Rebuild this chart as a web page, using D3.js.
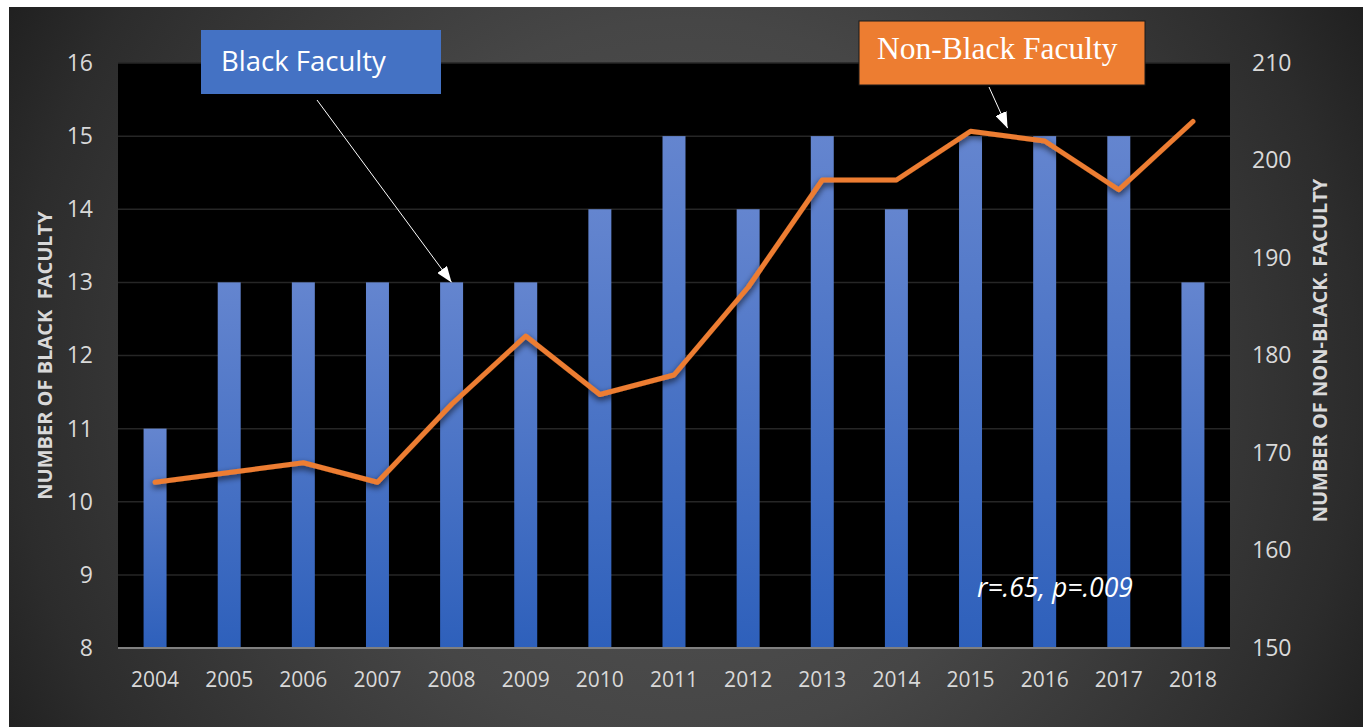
<!DOCTYPE html>
<html>
<head>
  <meta charset="utf-8">
  <style>
body {
  margin: 0;
  background: #fff;
}
svg {
  display: block;
  font-family: "Open Sans", sans-serif;
}
  </style>
</head>
<body>
  <svg id="chart" width="1368" height="727"></svg>
  <script src="https://cdn.jsdelivr.net/npm/d3@7"></script>
  <script>
// Data
var years = ["2004", "2005", "2006", "2007", "2008", "2009", "2010", "2011",
             "2012", "2013", "2014", "2015", "2016", "2017", "2018"];
var blackFaculty = [11, 13, 13, 13, 13, 13, 14, 15, 14, 15, 14, 15, 15, 15, 13];
var nonBlackFaculty = [167, 168, 169, 167, 175, 182, 176, 178, 187, 198, 198, 203, 202, 197, 204];
var leftTicks = [8, 9, 10, 11, 12, 13, 14, 15, 16];
var rightTicks = [150, 160, 170, 180, 190, 200, 210];

var svg = d3.select("#chart"),
    width = +svg.attr("width"),
    height = +svg.attr("height");

var panel = {x0: 9, y0: 7, x1: 1363, y1: 727};
var plot = {left: 118, right: 1230, top: 63, bottom: 648};

var x = d3.scaleBand()
    .domain(years)
    .range([plot.left, plot.right])
    .paddingInner(0.69)
    .paddingOuter(0.345);
var yL = d3.scaleLinear().domain([8, 16]).range([plot.bottom, plot.top]);
var yR = d3.scaleLinear().domain([150, 210]).range([plot.bottom, plot.top]);

function xc(yr) { return x(yr) + x.bandwidth() / 2; }

var defs = svg.append("defs");

// dark radial background
var bg = defs.append("radialGradient")
    .attr("id", "bg")
    .attr("gradientUnits", "userSpaceOnUse")
    .attr("cx", 684).attr("cy", 380).attr("r", 800);
bg.append("stop").attr("offset", 0).attr("stop-color", "#555555");
bg.append("stop").attr("offset", 0.45).attr("stop-color", "#464646");
bg.append("stop").attr("offset", 0.84).attr("stop-color", "#2c2c2c");
bg.append("stop").attr("offset", 1).attr("stop-color", "#1d1d1d");

// bar gradient
var bar = defs.append("linearGradient")
    .attr("id", "bar")
    .attr("x1", 0).attr("y1", 0).attr("x2", 0).attr("y2", 1);
bar.append("stop").attr("offset", 0).attr("stop-color", "#6485cf");
bar.append("stop").attr("offset", 1).attr("stop-color", "#2e60bb");

// line shadow
defs.append("filter")
    .attr("id", "shadow")
    .attr("x", "-10%").attr("y", "-10%").attr("width", "120%").attr("height", "130%")
  .append("feDropShadow")
    .attr("dx", 0).attr("dy", 3).attr("stdDeviation", 3)
    .attr("flood-color", "#000").attr("flood-opacity", 0.7);

// arrow head
defs.append("marker")
    .attr("id", "head")
    .attr("markerUnits", "userSpaceOnUse")
    .attr("viewBox", "0 0 16 12")
    .attr("refX", 16).attr("refY", 6)
    .attr("markerWidth", 16).attr("markerHeight", 12)
    .attr("orient", "auto")
  .append("path")
    .attr("d", "M0,0L16,6L0,12Z")
    .attr("fill", "#fff");

svg.append("rect")
    .attr("x", panel.x0).attr("y", panel.y0)
    .attr("width", panel.x1 - panel.x0).attr("height", panel.y1 - panel.y0)
    .attr("fill", "url(#bg)");

svg.append("rect")
    .attr("x", plot.left).attr("y", plot.top)
    .attr("width", plot.right - plot.left).attr("height", plot.bottom - plot.top)
    .attr("fill", "#000");

// gridlines
svg.append("g").selectAll("line")
    .data(leftTicks.slice(1))
    .enter().append("line")
      .attr("x1", plot.left).attr("x2", plot.right)
      .attr("y1", function(d) { return yL(d); })
      .attr("y2", function(d) { return yL(d); })
      .attr("stroke", "#262626")
      .attr("stroke-width", 1.5);

// bars
svg.append("g").selectAll("rect")
    .data(years)
    .enter().append("rect")
      .attr("x", function(d) { return x(d); })
      .attr("y", function(d, i) { return yL(blackFaculty[i]); })
      .attr("width", x.bandwidth())
      .attr("height", function(d, i) { return yL(8) - yL(blackFaculty[i]); })
      .attr("fill", "url(#bar)");

// bottom axis line
svg.append("line")
    .attr("x1", plot.left).attr("x2", plot.right)
    .attr("y1", plot.bottom).attr("y2", plot.bottom)
    .attr("stroke", "#808080")
    .attr("stroke-width", 2);

// non-black line
var line = d3.line()
    .x(function(d, i) { return xc(years[i]); })
    .y(function(d) { return yR(d); });

svg.append("path")
    .datum(nonBlackFaculty)
    .attr("d", line)
    .attr("fill", "none")
    .attr("stroke", "#ed7d31")
    .attr("stroke-width", 5)
    .attr("stroke-linejoin", "round")
    .attr("stroke-linecap", "round")
    .attr("filter", "url(#shadow)");

// axes
function styleAxis(g, size) {
  g.select(".domain").remove();
  g.selectAll("text")
    .attr("fill", "#d9d9d9")
    .attr("font-size", size)
    .attr("font-family", "'Open Sans', sans-serif");
}

svg.append("g")
    .attr("transform", "translate(" + (plot.left - 25) + ",0)")
    .call(d3.axisLeft(yL).tickValues(leftTicks).tickSize(0).tickPadding(0))
    .call(styleAxis, 23);

svg.append("g")
    .attr("transform", "translate(" + (plot.right + 22) + ",0)")
    .call(d3.axisRight(yR).tickValues(rightTicks).tickSize(0).tickPadding(0))
    .call(styleAxis, 23);

svg.append("g")
    .attr("transform", "translate(0," + plot.bottom + ")")
    .call(d3.axisBottom(x).tickSize(0).tickPadding(24))
    .call(styleAxis, 21);

// axis titles
svg.append("text")
    .attr("transform", "translate(44," + ((plot.top + plot.bottom) / 2) + ") rotate(-90)")
    .attr("text-anchor", "middle")
    .attr("dominant-baseline", "central")
    .attr("fill", "#d9d9d9")
    .attr("font-size", 20)
    .attr("font-weight", "bold")
    .attr("xml:space", "preserve")
    .text("NUMBER OF BLACK  FACULTY");

svg.append("text")
    .attr("transform", "translate(1319," + ((plot.top + plot.bottom) / 2 - 5) + ") rotate(-90)")
    .attr("text-anchor", "middle")
    .attr("dominant-baseline", "central")
    .attr("fill", "#d9d9d9")
    .attr("font-size", 20)
    .attr("font-weight", "bold")
    .text("NUMBER OF NON-BLACK. FACULTY");

// callout: Black Faculty
svg.append("line")
    .attr("x1", 317).attr("y1", 100)
    .attr("x2", xc("2008")).attr("y2", yL(blackFaculty[4]))
    .attr("stroke", "#fff")
    .attr("stroke-width", 1)
    .attr("marker-end", "url(#head)");

svg.append("rect")
    .attr("x", 201).attr("y", 30)
    .attr("width", 240).attr("height", 64)
    .attr("fill", "#4472c4");

svg.append("text")
    .attr("x", 221).attr("y", 71)
    .attr("fill", "#fff")
    .attr("font-size", 27.5)
    .text("Black Faculty");

// callout: Non-Black Faculty
var tipX = (xc("2015") + xc("2016")) / 2,
    tipY = yR((nonBlackFaculty[11] + nonBlackFaculty[12]) / 2) - 8;

svg.append("line")
    .attr("x1", 989).attr("y1", 87)
    .attr("x2", tipX).attr("y2", tipY)
    .attr("stroke", "#fff")
    .attr("stroke-width", 1)
    .attr("marker-end", "url(#head)");

svg.append("rect")
    .attr("x", 859).attr("y", 21)
    .attr("width", 286).attr("height", 64)
    .attr("fill", "#ed7d31")
    .attr("stroke", "#1a1a1a")
    .attr("stroke-width", 1);

svg.append("text")
    .attr("x", 877).attr("y", 59)
    .attr("fill", "#fff")
    .attr("font-size", 31.5)
    .attr("font-family", "'Liberation Serif', 'Times New Roman', serif")
    .text("Non-Black Faculty");

// correlation note
svg.append("text")
    .attr("x", 977).attr("y", 597)
    .attr("fill", "#fff")
    .attr("font-size", 26.5)
    .attr("font-style", "italic")
    .text("r=.65, p=.009");
  </script>
</body>
</html>
